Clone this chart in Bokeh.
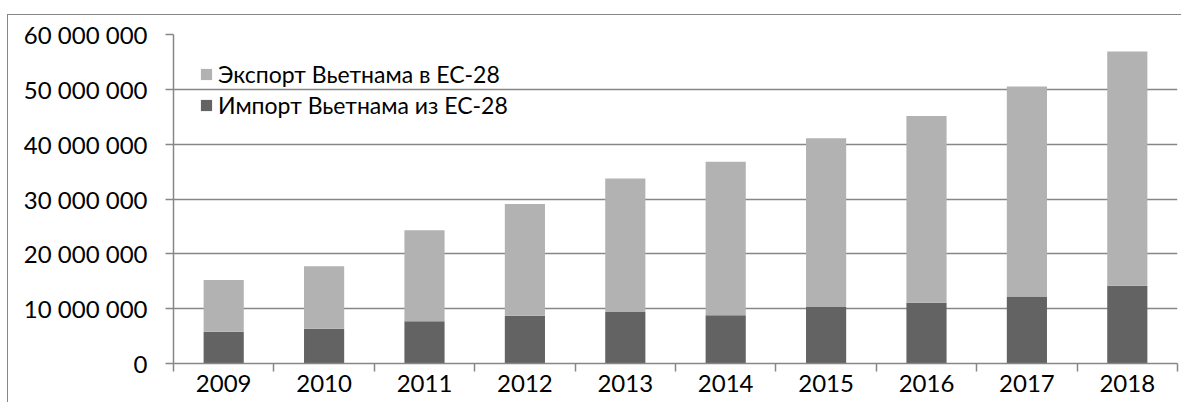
from bokeh.plotting import figure
from bokeh.models import (ColumnDataSource, Range1d, FixedTicker, CustomJSTickFormatter,
                          Legend, LegendItem)
from bokeh.embed import file_html
from bokeh.resources import INLINE

years = ["2009", "2010", "2011", "2012", "2013", "2014", "2015", "2016", "2017", "2018"]
imports = [5800000, 6350000, 7700000, 8700000, 9400000, 8800000, 10300000, 11100000, 12200000, 14200000]
exports = [9450000, 11400000, 16600000, 20400000, 24350000, 28000000, 30800000, 34050000, 38300000, 42700000]
y_ticks = [0, 10000000, 20000000, 30000000, 40000000, 50000000, 60000000]
series_names = ["Экспорт Вьетнама в ЕС-28", "Импорт Вьетнама из ЕС-28"]

DARK = "#636363"
LIGHT = "#b2b2b2"
GRID = "#878787"
FONT = "Lato"

n = len(years)
centers = [i + 0.5 for i in range(n)]
src = ColumnDataSource(dict(x=centers, imp=imports, exp=exports))

p = figure(width=1174, height=388, output_backend="svg", toolbar_location=None,
           x_range=Range1d(0, n), y_range=Range1d(0, y_ticks[-1]),
           min_border_left=165, min_border_right=5, min_border_top=19, min_border_bottom=40)
p.outline_line_color = None
p.background_fill_color = "white"
p.border_fill_color = "white"
p.styles = {"margin-left": "7px", "margin-top": "14px",
            "border-left": "1px solid #878787", "border-top": "1px solid #878787"}

rs = p.vbar_stack(["imp", "exp"], x="x", width=0.4, color=[DARK, LIGHT], line_color=None, source=src)

# axes
xa = p.xaxis[0]
xa.ticker = FixedTicker(ticks=centers, minor_ticks=list(range(n + 1)))
xa.major_label_overrides = {c: y for c, y in zip(centers, years)}
xa.major_tick_out = 0
xa.major_tick_in = 0
xa.minor_tick_out = 8
xa.minor_tick_in = 0
xa.minor_tick_line_color = GRID
xa.minor_tick_line_width = 1.5
xa.axis_line_color = GRID
xa.axis_line_width = 1.5
xa.major_label_text_font = FONT
xa.major_label_text_font_size = "24px"
xa.major_label_text_color = "black"
xa.major_label_standoff = 3

ya = p.yaxis[0]
ya.ticker = FixedTicker(ticks=y_ticks)
ya.formatter = CustomJSTickFormatter(code=r"return Math.round(tick).toString().replace(/\B(?=(\d{3})+(?!\d))/g, ' ');")
ya.major_tick_out = 8
ya.major_tick_in = 0
ya.minor_tick_out = 0
ya.minor_tick_in = 0
ya.major_tick_line_color = GRID
ya.major_tick_line_width = 1.5
ya.axis_line_color = GRID
ya.axis_line_width = 1.5
ya.major_label_text_font = FONT
ya.major_label_text_font_size = "24px"
ya.major_label_text_color = "black"
ya.major_label_standoff = 18

p.xgrid.grid_line_color = None
p.ygrid.grid_line_color = GRID
p.ygrid.grid_line_width = 1.5
p.ygrid.ticker = FixedTicker(ticks=y_ticks)

legend = Legend(items=[LegendItem(label=series_names[0], renderers=[rs[1]]),
                       LegendItem(label=series_names[1], renderers=[rs[0]])],
                location="top_left")
legend.margin = 26
legend.padding = 0
legend.spacing = 3
legend.border_line_color = None
legend.background_fill_alpha = 0
legend.glyph_width = 14
legend.glyph_height = 14
legend.label_standoff = 5
legend.label_text_font = FONT
legend.label_text_font_size = "23px"
legend.label_text_color = "black"
p.add_layout(legend)

open("out.html", "w").write(file_html(p, INLINE))
